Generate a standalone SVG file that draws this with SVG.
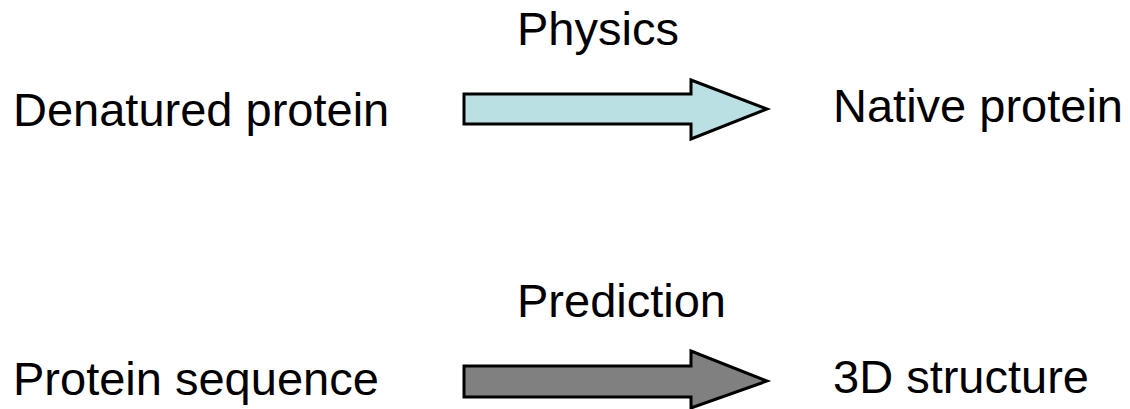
<svg xmlns="http://www.w3.org/2000/svg" width="1130" height="409" viewBox="0 0 1130 409">
<style>
text{font-family:"Liberation Sans",Arial,sans-serif;font-size:47px;fill:#000}
.arr{stroke:#000;stroke-width:3;stroke-linejoin:miter}
</style>
<rect width="1130" height="409" fill="#fff"/>
<g id="denatured"><text x="13" y="126">Denatured protein</text></g>
<g id="native"><text x="833" y="122">Native protein</text></g>
<g id="sequence"><text x="13" y="395">Protein sequence</text></g>
<g id="structure"><text x="833" y="393">3D structure</text></g>
<g id="connectors">
<g id="physics">
<path class="arr" fill="#bae0e3" d="M464 94 H691 V80 L767 109 L691 139 V124 H464 Z"/>
<text x="517" y="45">Physics</text>
</g>
<g id="prediction">
<path class="arr" fill="#808080" d="M464 366 H691 V351 L767 381 L691 408 V397 H464 Z"/>
<text x="517" y="317">Prediction</text>
</g>
</g>
</svg>
